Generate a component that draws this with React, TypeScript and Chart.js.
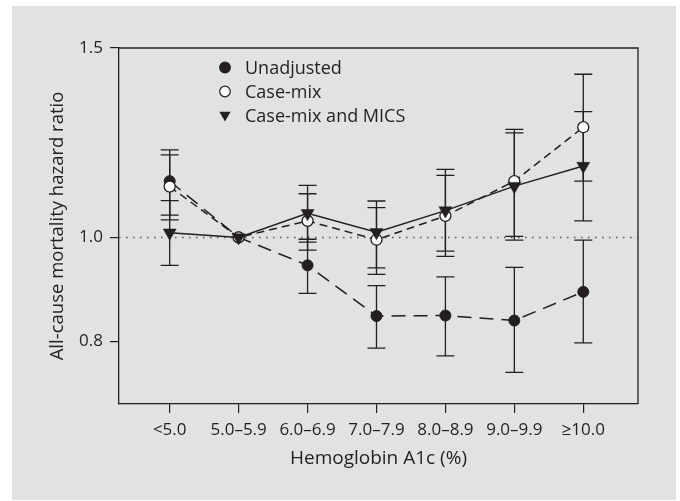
import React, { useEffect, useRef } from "react";
import { Chart, registerables } from "chart.js";
Chart.register(...registerables);

// ---- data ----
const categories = ["<5.0", "5.0–5.9", "6.0–6.9", "7.0–7.9", "8.0–8.9", "9.0–9.9", "≥10.0"];
const yTicks = [0.8, 1.0, 1.5];

const unadjusted = [1.128, 1.0, 0.942, 0.845, 0.846, 0.837, 0.89];
const unadjustedLow = [1.049, null, 0.887, 0.789, 0.776, 0.749, 0.798];
const unadjustedHigh = [1.206, null, 0.996, 0.902, 0.919, 0.938, 0.994];

const caseMix = [1.115, 1.0, 1.036, 0.995, 1.047, 1.128, 1.266];
const caseMixLow = [1.038, null, 0.973, 0.924, 0.96, 1.002, 1.128];
const caseMixHigh = [1.193, null, 1.098, 1.066, 1.142, 1.26, 1.418];

const caseMixMics = [1.01, 1.0, 1.053, 1.011, 1.059, 1.116, 1.165];
const caseMixMicsLow = [0.942, null, 0.99, 0.937, 0.971, 0.994, 1.036];
const caseMixMicsHigh = [1.082, null, 1.118, 1.081, 1.157, 1.251, 1.309];

const seriesLabels = ["Unadjusted", "Case-mix", "Case-mix and MICS"];

const INK = "#231f20";
const BG = "#e1e2e4";
const FONT = "'Open Sans', 'Noto Sans', sans-serif";

const toPoints = (arr: number[]) => arr.map((v, i) => ({ x: i, y: v }));

const errorBarsPlugin = {
  id: "errorBars",
  beforeDatasetsDraw(chart: any) {
    const { ctx, chartArea, scales } = chart;
    const xs = scales.x;
    const ys = scales.y;
    ctx.save();
    // reference line at 1.0
    const y1 = ys.getPixelForValue(1.0);
    ctx.strokeStyle = "#555";
    ctx.lineWidth = 1.5;
    ctx.setLineDash([1.5, 5.5]);
    ctx.beginPath();
    ctx.moveTo(chartArea.left, y1);
    ctx.lineTo(chartArea.right, y1);
    ctx.stroke();
    ctx.setLineDash([]);
    // error bars
    ctx.strokeStyle = INK;
    ctx.lineWidth = 1.3;
    chart.data.datasets.forEach((ds: any) => {
      const lo = ds.errLow as (number | null)[];
      const hi = ds.errHigh as (number | null)[];
      if (!lo || !hi) return;
      lo.forEach((l, i) => {
        const h = hi[i];
        if (l == null || h == null) return;
        const x = xs.getPixelForValue(i);
        const yl = ys.getPixelForValue(l);
        const yh = ys.getPixelForValue(h);
        ctx.beginPath();
        ctx.moveTo(x, yl);
        ctx.lineTo(x, yh);
        ctx.moveTo(x - 9, yl);
        ctx.lineTo(x + 9, yl);
        ctx.moveTo(x - 9, yh);
        ctx.lineTo(x + 9, yh);
        ctx.stroke();
      });
    });
    ctx.restore();
  },
  afterDraw(chart: any) {
    const { ctx, chartArea } = chart;
    ctx.save();
    ctx.strokeStyle = INK;
    ctx.lineWidth = 1.3;
    ctx.beginPath();
    ctx.moveTo(chartArea.left, chartArea.top);
    ctx.lineTo(chartArea.right, chartArea.top);
    ctx.lineTo(chartArea.right, chartArea.bottom);
    ctx.stroke();

    // legend
    const lx = chartArea.left + 106;
    const tx = chartArea.left + 126;
    const rows = [chartArea.top + 19.5, chartArea.top + 43.5, chartArea.top + 67];
    ctx.font = `18px ${FONT}`;
    ctx.textBaseline = "middle";
    ctx.textAlign = "left";
    ctx.fillStyle = INK;
    chart.data.datasets.forEach((ds: any, i: number) => {
      const y = rows[i];
      ctx.lineWidth = 1.2;
      ctx.strokeStyle = INK;
      if (ds.pointStyle === "triangle") {
        const r = 6.5;
        ctx.beginPath();
        ctx.moveTo(lx - r * 0.866, y - r * 0.5);
        ctx.lineTo(lx + r * 0.866, y - r * 0.5);
        ctx.lineTo(lx, y + r);
        ctx.closePath();
        ctx.fillStyle = INK;
        ctx.fill();
      } else {
        ctx.beginPath();
        ctx.arc(lx, y, 5.3, 0, Math.PI * 2);
        ctx.fillStyle = ds.pointBackgroundColor;
        ctx.fill();
        ctx.stroke();
      }
      ctx.fillStyle = INK;
      ctx.fillText(ds.label, tx, y + 1.5);
    });
    ctx.restore();
  },
};

export default function App() {
  const ref = useRef<HTMLCanvasElement | null>(null);
  useEffect(() => {
    if (!ref.current) return;
    Chart.defaults.font.family = FONT;
    Chart.defaults.color = INK;
    const chart = new Chart(ref.current, {
      type: "line",
      data: {
        datasets: [
          {
            label: seriesLabels[0],
            data: toPoints(unadjusted),
            errLow: unadjustedLow,
            errHigh: unadjustedHigh,
            borderColor: INK,
            borderWidth: 1.5,
            borderDash: [14, 8],
            pointStyle: "circle",
            pointRadius: 5.5,
            pointBorderWidth: 1,
            pointBackgroundColor: INK,
            pointBorderColor: INK,
            order: 3,
          } as any,
          {
            label: seriesLabels[1],
            data: toPoints(caseMix),
            errLow: caseMixLow,
            errHigh: caseMixHigh,
            borderColor: INK,
            borderWidth: 1.5,
            borderDash: [8, 5],
            pointStyle: "circle",
            pointRadius: 5.5,
            pointBorderWidth: 1.3,
            pointBackgroundColor: "#ffffff",
            pointBorderColor: INK,
            order: 2,
          } as any,
          {
            label: seriesLabels[2],
            data: toPoints(caseMixMics),
            errLow: caseMixMicsLow,
            errHigh: caseMixMicsHigh,
            borderColor: INK,
            borderWidth: 1.5,
            pointStyle: "triangle",
            rotation: 180,
            pointRotation: 180,
            pointRadius: 7.5,
            pointBorderWidth: 0.5,
            pointBackgroundColor: INK,
            pointBorderColor: INK,
            order: 1,
          } as any,
        ],
      },
      options: {
        animation: false,
        responsive: false,
        devicePixelRatio: 1,
        events: [],
        layout: { padding: { top: 42, right: 38, left: 0, bottom: 0 } },
        plugins: { legend: { display: false }, tooltip: { enabled: false } },
        scales: {
          x: {
            type: "linear",
            min: -0.7355,
            max: 6.794,
            afterBuildTicks: (s: any) => {
              s.ticks = categories.map((_, i) => ({ value: i }));
            },
            afterFit: (s: any) => {
              s.height = 96;
            },
            ticks: {
              autoSkip: false,
              maxRotation: 0,
              padding: 7,
              color: INK,
              font: { size: 17, family: FONT },
              callback: (v: any) => categories[Math.round(Number(v))] ?? "",
            },
            grid: { drawOnChartArea: false, drawTicks: true, tickLength: 9, color: INK, lineWidth: 1.2 },
            border: { display: true, color: INK, width: 1.3 },
            title: {
              display: true,
              text: "Hemoglobin A1c (%)",
              color: INK,
              font: { size: 19, family: FONT },
              padding: { top: 0, bottom: 30 },
            },
          },
          y: {
            type: "logarithmic",
            min: 0.7,
            max: 1.5,
            afterBuildTicks: (s: any) => {
              s.ticks = yTicks.map((v) => ({ value: v }));
            },
            afterFit: (s: any) => {
              s.width = 107;
            },
            ticks: {
              padding: 7,
              color: INK,
              font: { size: 17, family: FONT },
              callback: (v: any) => Number(v).toFixed(1),
            },
            grid: { drawOnChartArea: false, drawTicks: true, tickLength: 9, color: INK, lineWidth: 1.2 },
            border: { display: true, color: INK, width: 1.3 },
            title: {
              display: true,
              text: "All-cause mortality hazard ratio",
              color: INK,
              font: { size: 18.5, family: FONT },
              padding: { top: 35, bottom: 0 },
            },
          },
        },
      } as any,
      plugins: [errorBarsPlugin],
    });
    return () => chart.destroy();
  }, []);
  return (
    <div style={{ position: "absolute", left: 12, top: 6, width: 664, height: 494, background: BG }}>
      <canvas ref={ref} width={664} height={494} style={{ display: "block" }} />
    </div>
  );
}
